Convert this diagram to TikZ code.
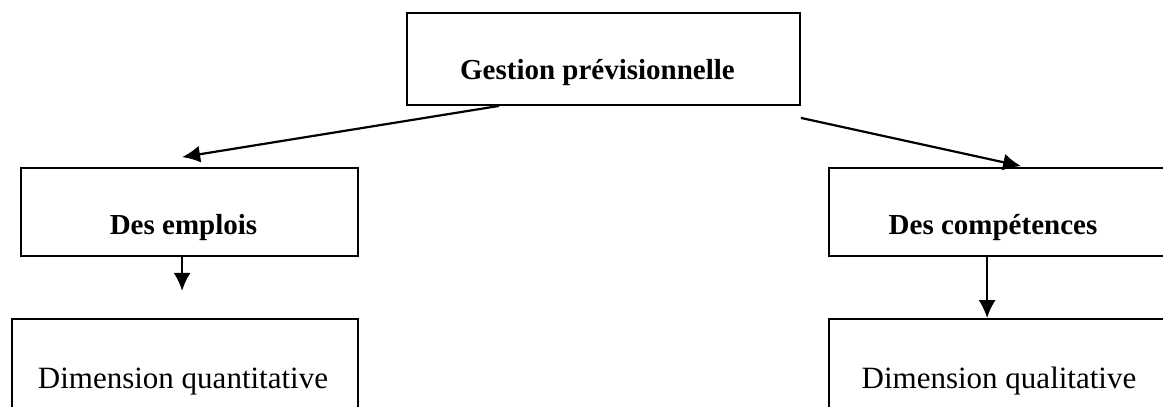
\documentclass[tikz,border=0pt]{standalone}
\usepackage{fontspec}
\setmainfont{Liberation Serif}
\usetikzlibrary{arrows.meta,calc}
\begin{document}
\begin{tikzpicture}[x=1pt,y=-1pt,
  box/.style={draw,line width=1.8pt,inner sep=0pt,minimum width=#1},
  boldlbl/.style={anchor=base,inner sep=0pt,font=\fontsize{29}{34}\selectfont\bfseries},
  reglbl/.style={anchor=base,inner sep=0pt,font=\fontsize{31}{36}\selectfont},
  arr/.style={line width=2.2pt,-{Latex[length=18pt,width=17pt]}}]
\useasboundingbox (0,0) rectangle (1163,407);
\clip (0,0) rectangle (1163,407);
% boxes
\node[box=393pt,minimum height=92pt] (top) at (603.5,59) {};
\node[box=337pt,minimum height=88pt] (emp) at (189.5,212) {};
\node[box=346pt,minimum height=128pt] (quan) at (185,383) {};
\node[box=371pt,minimum height=88pt] (comp) at (1014.5,212) {};
\node[box=371pt,minimum height=128pt] (qual) at (1014.5,383) {};
% labels
\node[boldlbl] (ttop) at (597.5,79) {Gestion prévisionnelle};
\node[boldlbl] (temp) at (183.5,234) {Des emplois};
\node[boldlbl] (tcomp) at (993,234) {Des compétences};
\node[reglbl] (tquan) at (183,388) {Dimension quantitative};
\node[reglbl] (tqual) at (999,388) {Dimension qualitative};
% connector ends
\coordinate (a1s) at ($(top.south west)+(93,0)$);
\coordinate (a1e) at ($(emp.north west)+(162,-10)$);
\coordinate (a2s) at ($(top.south east)+(0,12)$);
\coordinate (a2e) at ($(comp.north west)+(193,-1)$);
\coordinate (a3s) at ($(emp.south west)+(162,0)$);
\coordinate (a3e) at ($(a3s)+(0,34)$);
\coordinate (a4s) at ($(comp.south west)+(159,0)$);
\coordinate (a4e) at ($(qual.north west)+(159,0)$);
\draw[arr] (a1s) -- (a1e);
\draw[arr] (a2s) -- (a2e);
\draw[arr] (a3s) -- (a3e);
\draw[arr] (a4s) -- (a4e);
\end{tikzpicture}
\end{document}
